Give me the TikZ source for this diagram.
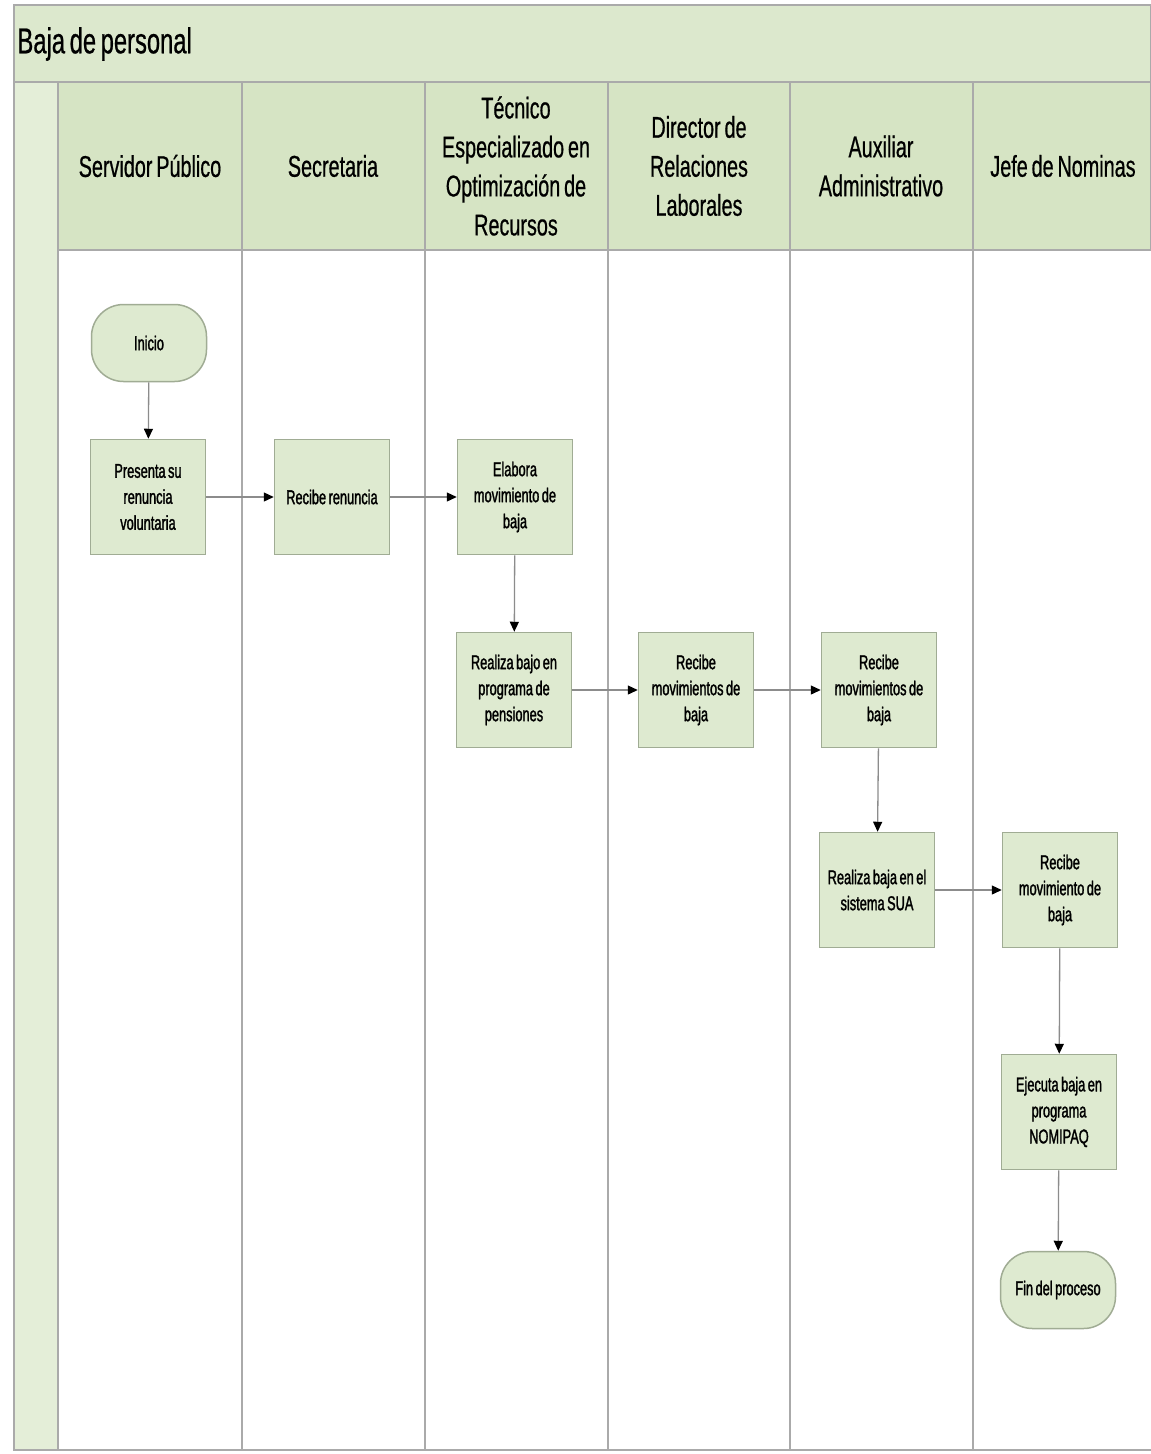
\documentclass[tikz,border=0pt]{standalone}
\usepackage{fontspec}
\setmainfont[FakeStretch=0.66,WordSpace=0.7,FakeBold=0.6]{Liberation Sans}
\newfontfamily\pasofont[FakeStretch=0.64,WordSpace=0.7,FakeBold=1.4]{Liberation Sans}
\usetikzlibrary{arrows.meta}
\newlength{\du}
\setlength{\du}{1pt}
\definecolor{barcolor}{RGB}{220,232,205}
\definecolor{headcolor}{RGB}{214,228,196}
\definecolor{stripcolor}{RGB}{228,238,216}
\definecolor{boxfill}{RGB}{222,234,208}
\definecolor{boxline}{RGB}{160,172,148}
\definecolor{lanecolor}{RGB}{170,170,170}
\definecolor{flowcolor}{RGB}{140,140,140}
\tikzset{
  carril/.style={draw=lanecolor, line width=1.3\du},
  cabecera/.style={align=center, font=\fontsize{30}{39}\selectfont},
  paso/.style={draw=boxline, fill=boxfill, line width=1.5\du, minimum width=115\du, minimum height=115\du, align=center, inner sep=0pt, font=\pasofont\fontsize{20}{26}\selectfont},
  terminal/.style={paso, rounded corners=32\du, minimum height=77\du},
  flujo/.style={draw=flowcolor, line width=1.3\du, -{Triangle[length=10pt,width=9pt,color=black]}},
}

\begin{document}
\begin{tikzpicture}
\pgftransformxscale{1.000000}
\pgftransformyscale{-1.000000}
\useasboundingbox (0\du,0\du) rectangle (1151\du,1454\du);
% pool and lanes
\fill[white] (0\du,0\du) rectangle (1151\du,1454\du);
\filldraw[carril, fill=barcolor] (14\du,5\du) rectangle (1151\du,82\du);
\filldraw[carril, fill=stripcolor] (14\du,82\du) rectangle (58\du,1450\du);
\filldraw[carril, fill=headcolor] (58\du,82\du) rectangle (1151\du,250\du);
\draw[carril] (58\du,1450\du)--(1151\du,1450\du);
\draw[carril] (242\du,82\du)--(242\du,1450\du);
\draw[carril] (425\du,82\du)--(425\du,1450\du);
\draw[carril] (608\du,82\du)--(608\du,1450\du);
\draw[carril] (790\du,82\du)--(790\du,1450\du);
\draw[carril] (973\du,82\du)--(973\du,1450\du);
\node[anchor=west, font=\fontsize{36}{40}\selectfont] (titulo) at (14\du,44\du){Baja de personal};
% lane headers
\node[cabecera] (hServidor) at (150\du,166\du){Servidor Público};
\node[cabecera] (hSecretaria) at (333\du,166\du){Secretaria};
\node[cabecera] (hTecnico) at (516\du,166\du){Técnico\\Especializado en\\Optimización de\\Recursos};
\node[cabecera] (hDirector) at (699\du,166\du){Director de\\Relaciones\\Laborales};
\node[cabecera] (hAuxiliar) at (881\du,166\du){Auxiliar\\Administrativo};
\node[cabecera] (hJefe) at (1063\du,166\du){Jefe de Nominas};
% steps
\node[terminal] (inicio) at (149\du,343\du){Inicio};
\node[paso] (presenta) at (148\du,497\du){Presenta su\\renuncia\\voluntaria};
\node[paso] (recibeRenuncia) at (332\du,497\du){Recibe renuncia};
\node[paso] (elabora) at (515\du,497\du){Elabora\\movimiento de\\baja};
\node[paso] (realizaPensiones) at (514\du,690\du){Realiza bajo en\\programa de\\pensiones};
\node[paso] (recibeDirector) at (696\du,690\du){Recibe\\movimientos de\\baja};
\node[paso] (recibeAuxiliar) at (879\du,690\du){Recibe\\movimientos de\\baja};
\node[paso] (realizaSUA) at (877\du,890\du){Realiza baja en el\\sistema SUA};
\node[paso] (recibeJefe) at (1060\du,890\du){Recibe\\movimiento de\\baja};
\node[paso] (ejecuta) at (1059\du,1112\du){Ejecuta baja en\\programa\\NOMIPAQ};
\node[terminal] (fin) at (1058\du,1290\du){Fin del proceso};
% flow
\draw[flujo] (inicio)--(presenta);
\draw[flujo] (presenta)--(recibeRenuncia);
\draw[flujo] (recibeRenuncia)--(elabora);
\draw[flujo] (elabora)--(realizaPensiones);
\draw[flujo] (realizaPensiones)--(recibeDirector);
\draw[flujo] (recibeDirector)--(recibeAuxiliar);
\draw[flujo] (recibeAuxiliar)--(realizaSUA);
\draw[flujo] (realizaSUA)--(recibeJefe);
\draw[flujo] (recibeJefe)--(ejecuta);
\draw[flujo] (ejecuta)--(fin);
\end{tikzpicture}
\end{document}
